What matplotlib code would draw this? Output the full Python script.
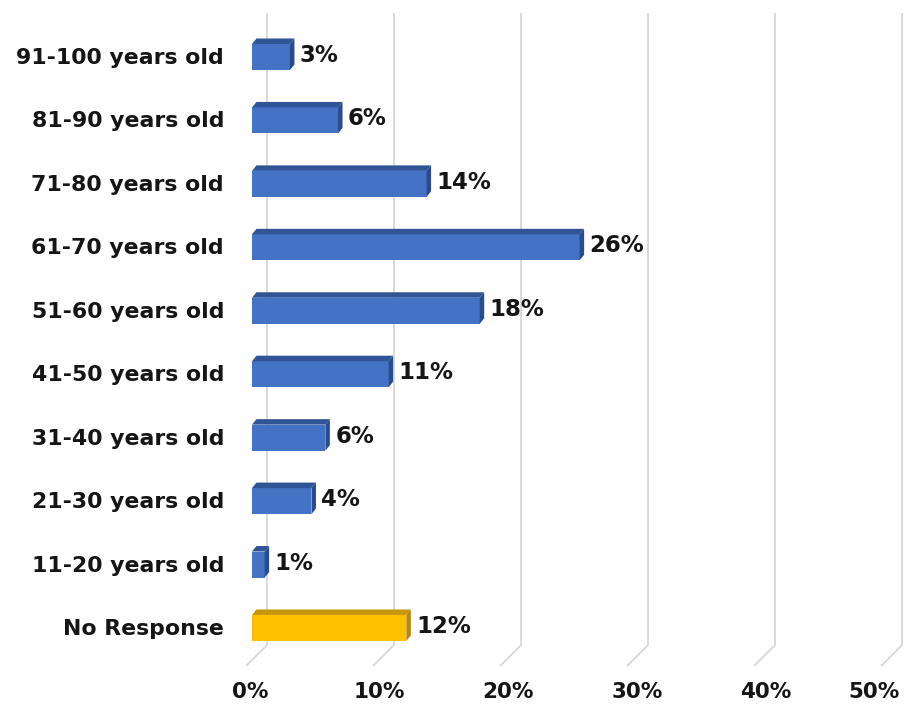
import matplotlib
matplotlib.use("Agg")
import matplotlib.pyplot as plt
from matplotlib.patches import Polygon, Rectangle

categories = ["91-100 years old", "81-90 years old", "71-80 years old",
              "61-70 years old", "51-60 years old", "41-50 years old",
              "31-40 years old", "21-30 years old", "11-20 years old",
              "No Response"]
values = [3.0, 6.8, 13.8, 25.9, 18.0, 10.8, 5.8, 4.7, 1.0, 12.2]
value_labels = ["3%", "6%", "14%", "26%", "18%", "11%", "6%", "4%", "1%", "12%"]
ticks = [0, 10, 20, 30, 40, 50]
tick_labels = ["0%", "10%", "20%", "30%", "40%", "50%"]

blue = ("#4472C4", "#2F5597", "#2B4C8C")   # front, top, side
gold = ("#FFC000", "#C8960A", "#B8860B")

W, H = 905, 706
fig = plt.figure(figsize=(W / 100, H / 100), dpi=100)
ax = fig.add_axes([0, 0, 1, 1])
# pixel mapping: x_px = 252 + 12.65 * x ; y_px = 57 + 63.44 * i
sx, x0 = 12.65, 252.0
sy, y0 = 63.44, 57.0
ax.set_xlim((0 - x0) / sx, (W - x0) / sx)
ax.set_ylim((H - y0) / sy, (0 - y0) / sy)
ax.axis("off")

font = ["DejaVu Sans"]
tc = "#151515"

# gridlines (3D wall + floor)
back_off = 15 / sx
floor_dx = 21 / sx
g_top = (13 - y0) / sy
g_bot = (645 - y0) / sy
g_front = (666 - y0) / sy
for t in ticks:
    xb = t * 1.004 + back_off
    ax.plot([xb, xb, xb - floor_dx], [g_top, g_bot, g_front],
            color="#D9D9D9", lw=1.4, zorder=1, solid_capstyle="butt")

# bars
bh = 26 / sy
ddx = 4.5 / sx
ddy = 5.5 / sy
for i, (cat, v, lab) in enumerate(zip(categories, values, value_labels)):
    front, top, side = gold if cat == "No Response" else blue
    yt = i - bh / 2
    yb = i + bh / 2
    ax.add_patch(Rectangle((0, yt), v, bh, facecolor=front, edgecolor="none", zorder=3))
    ax.add_patch(Polygon([(0, yt), (ddx, yt - ddy), (v + ddx, yt - ddy), (v, yt)],
                         closed=True, facecolor=top, edgecolor="none", zorder=3))
    ax.add_patch(Polygon([(v, yt), (v + ddx, yt - ddy), (v + ddx, yb - ddy), (v, yb)],
                         closed=True, facecolor=side, edgecolor="none", zorder=3))
    ax.text(v + 10 / sx, i - 1.5 / sy, lab, ha="left", va="center", fontsize=16.5,
            fontweight="bold", family=font, color=tc, zorder=4)
    ax.text((224 - x0) / sx, i + 1 / sy, cat, ha="right", va="center", fontsize=15.8,
            fontweight="bold", family=font, color=tc)

# tick labels
ty = (692 - y0) / sy
for t, lab in zip(ticks, tick_labels):
    if t == ticks[-1]:
        ax.text((900 - x0) / sx, ty, lab, ha="right", va="center", fontsize=15.5,
                fontweight="bold", family=font, color=tc)
    else:
        ax.text(t * 1.02 - 0.16, ty, lab, ha="center", va="center", fontsize=15.5,
                fontweight="bold", family=font, color=tc)

fig.savefig("out.png", dpi=100)
